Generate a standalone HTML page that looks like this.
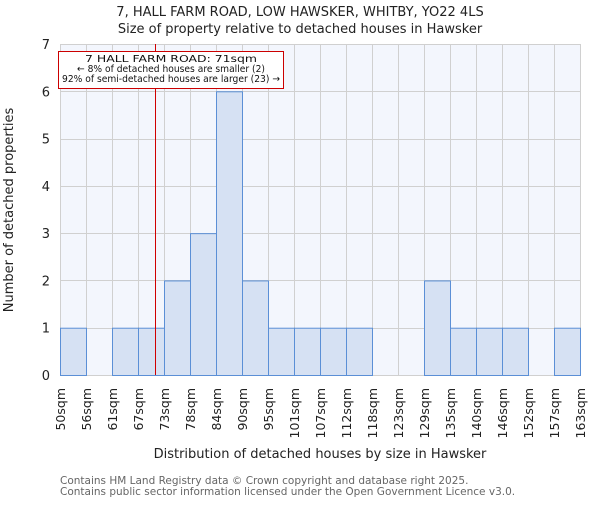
<!DOCTYPE html>
<html><head><meta charset="utf-8"><style>
body{margin:0;background:#fff;}
svg{font-family:"DejaVu Sans","Liberation Sans",sans-serif;}
</style></head><body>
<svg id="chart" width="600" height="500" viewBox="0 0 600 500">
<text x="300" y="16" text-anchor="middle" font-size="13" fill="#222">7, HALL FARM ROAD, LOW HAWSKER, WHITBY, YO22 4LS</text>
<text x="300" y="33" text-anchor="middle" font-size="13" fill="#222">Size of property relative to detached houses in Hawsker</text>
<rect x="60" y="44" width="520" height="331" fill="#f3f6fd"/>
<g id="grid"></g>
<g id="bars"></g>
<g id="yticks"></g>
<g id="xticks"></g>
<text transform="translate(13,210) rotate(-90)" text-anchor="middle" font-size="13" fill="#222">Number of detached properties</text>
<text x="320" y="458" text-anchor="middle" font-size="13" fill="#222">Distribution of detached houses by size in Hawsker</text>
<text x="60" y="484" font-size="10.5" fill="#666">Contains HM Land Registry data © Crown copyright and database right 2025.</text>
<text x="60" y="495" font-size="10.5" fill="#666">Contains public sector information licensed under the Open Government Licence v3.0.</text>
<g id="marker"></g>
<g>
<rect x="58.5" y="51.5" width="225" height="37" fill="#fff" stroke="#c00" stroke-width="1"/>
<text x="171" y="62" text-anchor="middle" font-size="10" fill="#111" textLength="172" lengthAdjust="spacingAndGlyphs">7 HALL FARM ROAD: 71sqm</text>
<text x="171" y="72" text-anchor="middle" font-size="10" fill="#111" textLength="188" lengthAdjust="spacingAndGlyphs">← 8% of detached houses are smaller (2)</text>
<text x="171" y="82" text-anchor="middle" font-size="10" fill="#111" textLength="218" lengthAdjust="spacingAndGlyphs">92% of semi-detached houses are larger (23) →</text>
</g>
</svg>
<script>
const binEdges=[50,56,61,67,73,78,84,90,95,101,107,112,118,123,129,135,140,146,152,157,163];
const edgeLabels=["50sqm","56sqm","61sqm","67sqm","73sqm","78sqm","84sqm","90sqm","95sqm","101sqm","107sqm","112sqm","118sqm","123sqm","129sqm","135sqm","140sqm","146sqm","152sqm","157sqm","163sqm"];
const counts=[1,0,1,1,2,3,6,2,1,1,1,1,0,0,2,1,1,1,0,1];
const yTicks=[0,1,2,3,4,5,6,7];
const propertySize=71;

const NS="http://www.w3.org/2000/svg";
const X0=60,X1=580,Y0=375,Y1=44,YMAX=7;
const nb=counts.length, bw=(X1-X0)/nb;
function xIdx(i){return X0+i*bw;}
function xVal(v){
  for(let i=0;i<binEdges.length-1;i++){
    if(v>=binEdges[i]&&v<=binEdges[i+1]) return xIdx(i)+(v-binEdges[i])/(binEdges[i+1]-binEdges[i])*bw;
  }
  return v<binEdges[0]?X0:X1;
}
function y(v){return Y0-(v/YMAX)*(Y0-Y1);}
function mk(t,a,p){const e=document.createElementNS(NS,t);for(const k in a)e.setAttribute(k,a[k]);p.appendChild(e);return e;}

const grid=document.getElementById('grid');
for(let i=0;i<=nb;i++){mk('line',{x1:xIdx(i)+0.5,x2:xIdx(i)+0.5,y1:Y1,y2:Y0,stroke:'#d0d0d0','stroke-width':1},grid);}
yTicks.forEach(t=>{mk('line',{x1:X0,x2:X1,y1:Math.round(y(t))+0.5,y2:Math.round(y(t))+0.5,stroke:'#d0d0d0','stroke-width':1},grid);});

const bars=document.getElementById('bars');
counts.forEach((c,i)=>{
  if(c<=0)return;
  const r=mk('rect',{x:xIdx(i)+0.5,y:y(c)+0.5,width:bw,height:y(0)-y(c),fill:'#d6e1f3',stroke:'#5b8fd6','stroke-width':1},bars);
  
  
});

const yt=document.getElementById('yticks');
yTicks.forEach(t=>{
  const e=mk('text',{x:50,y:y(t)+5,'text-anchor':'end','font-size':13,fill:'#222'},yt);
  e.textContent=t;
  
  
});

const xt=document.getElementById('xticks');
edgeLabels.forEach((l,i)=>{
  const x=xIdx(i);
  const e=mk('text',{transform:`translate(${x+5},388) rotate(-90)`,'text-anchor':'end','font-size':12.5,fill:'#222'},xt);
  e.textContent=l;
  
  
});

const m=document.getElementById('marker');
const mx=Math.round(xVal(propertySize))+0.5;
const ml=mk('line',{x1:mx,x2:mx,y1:Y1,y2:Y0,stroke:'#d00000','stroke-width':1},m);


</script>
</body></html>
